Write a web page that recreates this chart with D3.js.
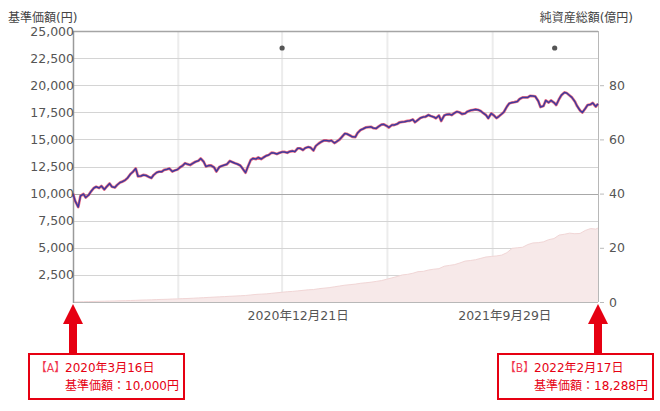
<!DOCTYPE html>
<html>
<head>
<meta charset="utf-8">
<script src="https://cdn.jsdelivr.net/npm/d3@7"></script>
<style>
  html, body { margin: 0; padding: 0; background: #fff; }
  svg { display: block; font-family: "DejaVu Sans", "Noto Sans CJK JP", sans-serif; }
</style>
</head>
<body>
<svg id="chart" width="660" height="411"></svg>
<script>
// ---------------- data ----------------
// weekly (Monday) dates + final date
const mondayDates = [
"2020-03-16","2020-03-23","2020-03-30","2020-04-06","2020-04-13","2020-04-20","2020-04-27","2020-05-04","2020-05-11","2020-05-18","2020-05-25","2020-06-01","2020-06-08","2020-06-15","2020-06-22","2020-06-29","2020-07-06","2020-07-13","2020-07-20","2020-07-27","2020-08-03","2020-08-10","2020-08-17","2020-08-24","2020-08-31","2020-09-07","2020-09-14","2020-09-21","2020-09-28","2020-10-05","2020-10-12","2020-10-19","2020-10-26","2020-11-02","2020-11-09","2020-11-16","2020-11-23","2020-11-30","2020-12-07","2020-12-14","2020-12-21","2020-12-28",
"2021-01-04","2021-01-11","2021-01-18","2021-01-25","2021-02-01","2021-02-08","2021-02-15","2021-02-22","2021-03-01","2021-03-08","2021-03-15","2021-03-22","2021-03-29","2021-04-05","2021-04-12","2021-04-19","2021-04-26","2021-05-03","2021-05-10","2021-05-17","2021-05-24","2021-05-31","2021-06-07","2021-06-14","2021-06-21","2021-06-28","2021-07-05","2021-07-12","2021-07-19","2021-07-26","2021-08-02","2021-08-09","2021-08-16","2021-08-23","2021-08-30","2021-09-06","2021-09-13","2021-09-20","2021-09-27","2021-10-04","2021-10-11","2021-10-18","2021-10-25","2021-11-01","2021-11-08","2021-11-15","2021-11-22","2021-11-29","2021-12-06","2021-12-13","2021-12-20","2021-12-27",
"2022-01-03","2022-01-10","2022-01-17","2022-01-24","2022-01-31","2022-02-07","2022-02-14","2022-02-17"
];
// mid-week (Thursday) dates
const thursdayDates = [
"2020-03-19","2020-03-26","2020-04-02","2020-04-09","2020-04-16","2020-04-23","2020-04-30","2020-05-07","2020-05-14","2020-05-21","2020-05-28","2020-06-04","2020-06-11","2020-06-18","2020-06-25","2020-07-02","2020-07-09","2020-07-16","2020-07-23","2020-07-30","2020-08-06","2020-08-13","2020-08-20","2020-08-27","2020-09-03","2020-09-10","2020-09-17","2020-09-24","2020-10-01","2020-10-08","2020-10-15","2020-10-22","2020-10-29","2020-11-05","2020-11-12","2020-11-19","2020-11-26","2020-12-03","2020-12-10","2020-12-17","2020-12-24","2020-12-31",
"2021-01-07","2021-01-14","2021-01-21","2021-01-28","2021-02-04","2021-02-11","2021-02-18","2021-02-25","2021-03-04","2021-03-11","2021-03-18","2021-03-25","2021-04-01","2021-04-08","2021-04-15","2021-04-22","2021-04-29","2021-05-06","2021-05-13","2021-05-20","2021-05-27","2021-06-03","2021-06-10","2021-06-17","2021-06-24","2021-07-01","2021-07-08","2021-07-15","2021-07-22","2021-07-29","2021-08-05","2021-08-12","2021-08-19","2021-08-26","2021-09-02","2021-09-09","2021-09-16","2021-09-23","2021-09-30","2021-10-07","2021-10-14","2021-10-21","2021-10-28","2021-11-04","2021-11-11","2021-11-18","2021-11-25","2021-12-02","2021-12-09","2021-12-16","2021-12-23","2021-12-30",
"2022-01-06","2022-01-13","2022-01-20","2022-01-27","2022-02-03","2022-02-10"
];

// 基準価額 (円) on Monday dates
const navMon = [
10000,8760,9960,9870,10520,10520,10380,10930,10560,11020,
11250,11810,12320,11620,11670,11440,11950,12020,12240,12040,
12220,12590,12700,12820,13030,12940,12590,12410,12450,12640,
13010,12800,12590,11930,13100,13190,13190,13500,13770,13650,
13840,13770,13930,14180,14020,14300,13980,14620,14900,14850,
14670,14990,15540,15360,15220,15870,16100,16160,16010,16370,
16240,16330,16420,16610,16700,16840,16800,17070,17250,17070,
17200,17200,17320,17440,17480,17390,17670,17760,17620,17250,
17390,16970,17340,18020,18400,18500,18870,18870,19000,18540,
18080,18400,18400,18730,19330,19050,18500,17670,17850,18220,
18030,18288
];
// 基準価額 (円) on Thursday dates
const navThu = [
9300,9780,9640,10190,10630,10700,10640,10640,10790,11100,
11440,11990,11600,11720,11560,11720,12020,12180,12320,12130,
12410,12800,12640,12940,13240,12500,12590,12040,12550,12700,
12920,12730,12320,12450,13240,13330,13330,13560,13750,13750,
13840,13880,13870,14180,14210,14250,14390,14760,14900,14900,
14790,15220,15500,15240,15590,15960,16130,16050,16170,16390,
16100,16330,16560,16630,16720,16580,16970,17090,17160,16950,
16700,17290,17250,17560,17340,17560,17710,17730,17440,16950,
17250,17110,17530,18310,18430,18730,18870,19020,18960,17990,
18590,18590,18170,19080,19280,18880,18080,17480,18170,18360
];

// 純資産総額 (億円) on Monday dates
const assets = [
0.0,0.05,0.1,0.15,0.2,0.25,0.3,0.35,0.4,0.45,
0.5,0.55,0.6,0.7,0.75,0.8,0.9,0.95,1.0,1.1,
1.15,1.25,1.3,1.4,1.5,1.6,1.7,1.8,1.9,2.0,
2.1,2.2,2.3,2.4,2.6,2.8,2.9,3.0,3.2,3.4,
3.6,3.8,3.9,4.1,4.3,4.5,4.6,4.9,5.1,5.3,
5.6,5.9,6.2,6.4,6.6,6.9,7.1,7.3,7.6,7.9,
8.4,8.9,9.4,10.0,10.2,10.6,11.2,11.3,11.8,12.1,
12.3,13.2,13.5,13.8,14.4,15.1,15.3,15.6,16.1,16.6,
16.8,17.0,17.3,18.2,19.8,20.0,20.2,21.2,21.8,21.9,
22.2,23.0,23.4,24.7,25.0,25.4,25.2,25.3,26.4,27.1,
26.9,27.3
];

const leftTicks  = [2500,5000,7500,10000,12500,15000,17500,20000,22500,25000];
const rightTicks = [0,20,40,60,80];
const gridDates  = ["2020-08-04","2020-12-21","2021-05-11","2021-09-29"];
const labelDates = ["2020-12-21","2021-09-29"];
const eventDates = ["2020-12-21","2021-12-21"];

const leftTitle  = "基準価額(円)";
const rightTitle = "純資産総額(億円)";

const annotations = [
  { key: "【A】", date: "2020-03-16", dateText: "2020年3月16日", navText: "基準価額：10,000円" },
  { key: "【B】", date: "2022-02-17", dateText: "2022年2月17日", navText: "基準価額：18,288円" }
];

// ---------------- layout ----------------
const plot = { left: 73, right: 598, top: 31, bottom: 302 };
const RED = "#e60012";
const parse = d3.timeParse("%Y-%m-%d");

const svg = d3.select("#chart");

const x = d3.scaleTime()
  .domain([parse(mondayDates[0]), parse(mondayDates[mondayDates.length - 1])])
  .range([plot.left, plot.right]);
const yL = d3.scaleLinear().domain([0, 25000]).range([plot.bottom, plot.top]);
const yR = d3.scaleLinear().domain([0, 100]).range([plot.bottom, plot.top]);

const navRows = mondayDates.map((d, i) => ({ date: parse(d), nav: navMon[i] }))
  .concat(thursdayDates.map((d, i) => ({ date: parse(d), nav: navThu[i] })))
  .sort((a, b) => a.date - b.date);
const assetRows = mondayDates.map((d, i) => ({ date: parse(d), assets: assets[i] }));

// vertical grid
svg.append("g").selectAll("line").data(gridDates).join("line")
  .attr("x1", d => x(parse(d))).attr("x2", d => x(parse(d)))
  .attr("y1", plot.top).attr("y2", plot.bottom)
  .attr("stroke", "#ececec").attr("stroke-width", 2);

// horizontal grid
svg.append("g").selectAll("line").data(leftTicks.filter(v => v < 25000)).join("line")
  .attr("x1", plot.left).attr("x2", plot.right)
  .attr("y1", d => Math.round(yL(d)) + 0.5).attr("y2", d => Math.round(yL(d)) + 0.5)
  .attr("stroke", d => d === 10000 ? "#a8a8a8" : "#d4d4d4").attr("stroke-width", 1);

// net assets area
const area = d3.area().x(d => x(d.date)).y0(yR(0)).y1(d => yR(d.assets));
svg.append("path").datum(assetRows).attr("d", area).attr("fill", "#f7e9e9");
svg.append("path").datum(assetRows)
  .attr("d", d3.line().x(d => x(d.date)).y(d => yR(d.assets)))
  .attr("fill", "none").attr("stroke", "#f1d6d6").attr("stroke-width", 1);

// frame
svg.append("line").attr("x1", plot.left).attr("x2", plot.right)
  .attr("y1", plot.top + 0.5).attr("y2", plot.top + 0.5)
  .attr("stroke", "#a5a5a5").attr("stroke-width", 1.5);
svg.append("line").attr("x1", plot.left).attr("x2", plot.right)
  .attr("y1", plot.bottom + 0.5).attr("y2", plot.bottom + 0.5)
  .attr("stroke", "#b8b8b8").attr("stroke-width", 1);
svg.append("line").attr("x1", plot.right + 0.5).attr("x2", plot.right + 0.5)
  .attr("y1", plot.top).attr("y2", plot.bottom)
  .attr("stroke", "#b8b8b8").attr("stroke-width", 1);
svg.append("line").attr("x1", plot.left + 0.5).attr("x2", plot.left + 0.5)
  .attr("y1", plot.top).attr("y2", plot.bottom + 1)
  .attr("stroke", "#9a9a9a").attr("stroke-width", 1.5);

// NAV line (red halo + blue core)
const line = d3.line().x(d => x(d.date)).y(d => yL(d.nav));
svg.append("path").datum(navRows).attr("d", line)
  .attr("fill", "none").attr("stroke", "#ec4d66").attr("stroke-width", 2.8)
  .attr("stroke-linejoin", "round").attr("stroke-opacity", 0.8);
svg.append("path").datum(navRows).attr("d", line)
  .attr("fill", "none").attr("stroke", "#3f3a9c").attr("stroke-width", 1.5)
  .attr("stroke-linejoin", "round");

// event dots
svg.append("g").selectAll("circle").data(eventDates).join("circle")
  .attr("cx", d => x(parse(d))).attr("cy", plot.top + 17).attr("r", 2.6)
  .attr("fill", "#555");

// left axis
const gL = svg.append("g").attr("transform", `translate(${plot.left + 1},0)`)
  .call(d3.axisLeft(yL).tickValues(leftTicks).tickSize(0).tickPadding(0)
    .tickFormat(d3.format(",")));
gL.select(".domain").remove();
gL.selectAll("text").attr("fill", "#555").attr("font-size", 12.5)
  .attr("font-family", "'DejaVu Sans', sans-serif");

// right axis
const gR = svg.append("g").attr("transform", `translate(${plot.right + 2},0)`)
  .call(d3.axisRight(yR).tickValues(rightTicks).tickSize(4).tickPadding(5));
gR.select(".domain").remove();
gR.selectAll("line").attr("stroke", "#bbb");
gR.selectAll("text").attr("fill", "#555").attr("font-size", 12.5)
  .attr("font-family", "'DejaVu Sans', sans-serif");

// bottom axis (labels start a little left of their gridline, as in the original)
const gB = svg.append("g").attr("transform", `translate(0,${plot.bottom})`)
  .call(d3.axisBottom(x).tickValues(labelDates.map(parse)).tickSize(0).tickPadding(9)
    .tickFormat(d3.timeFormat("%Y年%-m月%-d日")));
gB.select(".domain").remove();
gB.selectAll("text").attr("fill", "#555").attr("font-size", 12.5)
  .attr("text-anchor", "start").attr("dx", -35)
  .attr("font-family", "'DejaVu Sans', 'Noto Sans CJK JP', sans-serif");

// titles
svg.append("text").attr("x", 8).attr("y", 22).text(leftTitle)
  .attr("font-size", 12).attr("fill", "#444");
svg.append("text").attr("x", 633).attr("y", 22).attr("text-anchor", "end").text(rightTitle)
  .attr("font-size", 12).attr("fill", "#444");

// annotations: arrows + boxes
const boxLefts = [28, 497];
const boxW = 157, boxTop = 353, boxH = 47;
annotations.forEach((a, i) => {
  const ax = x(parse(a.date));
  const tip = plot.bottom + 2;
  const headH = 20, headW = 10, shaftW = 4;
  svg.append("path")
    .attr("d", `M${ax},${tip} L${ax + headW},${tip + headH} L${ax + shaftW},${tip + headH} L${ax + shaftW},${boxTop} L${ax - shaftW},${boxTop} L${ax - shaftW},${tip + headH} L${ax - headW},${tip + headH} Z`)
    .attr("fill", RED);
  const bx = boxLefts[i];
  svg.append("rect").attr("x", bx + 1).attr("y", boxTop + 1)
    .attr("width", boxW - 2).attr("height", boxH - 2)
    .attr("fill", "#fff").attr("stroke", RED).attr("stroke-width", 2);
  const keyX = bx + 8, keyW = 29;
  svg.append("text").attr("x", keyX).attr("y", boxTop + 19)
    .attr("font-size", 12).attr("fill", "#f0374f")
    .attr("textLength", keyW).attr("lengthAdjust", "spacingAndGlyphs")
    .text(a.key);
  svg.append("text").attr("x", keyX + keyW).attr("y", boxTop + 19)
    .attr("font-size", 12).attr("fill", RED).text(a.dateText);
  svg.append("text").attr("x", keyX + keyW).attr("y", boxTop + 37)
    .attr("font-size", 12).attr("fill", RED).text(a.navText);
});
</script>
</body>
</html>
